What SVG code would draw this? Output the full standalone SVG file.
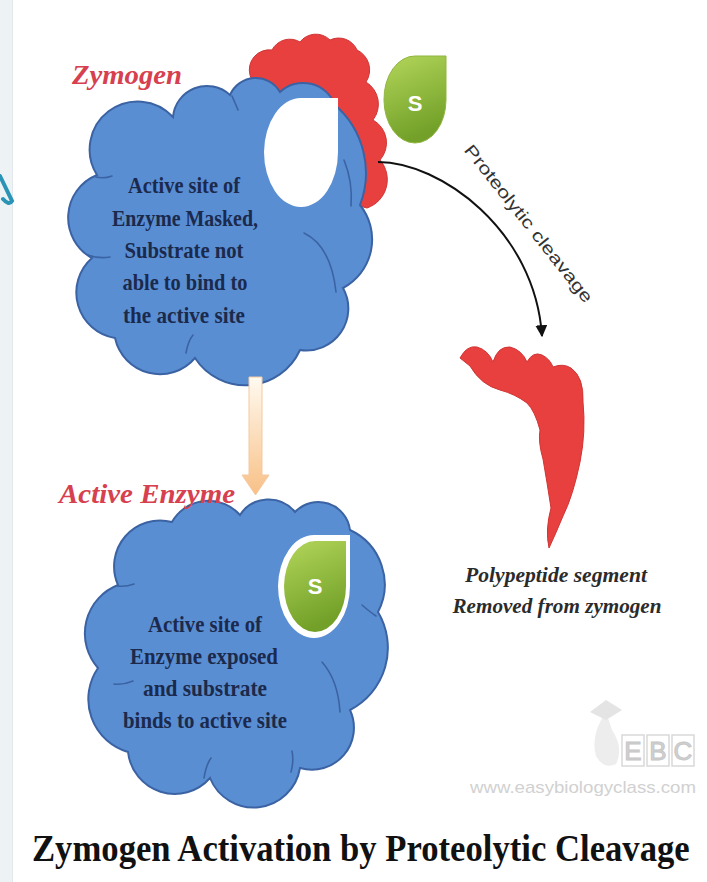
<svg xmlns="http://www.w3.org/2000/svg" width="707" height="882" viewBox="0 0 707 882">
  <style>
    .cloud { fill: #5a8ed3; stroke: #3b63a3; stroke-width: 2; }
    .fold { fill: none; stroke: #3b63a3; stroke-width: 1.6; stroke-linecap: round; }
    .body { font-family: "Liberation Serif", "DejaVu Serif", serif; font-weight: bold; font-size: 24px; fill: #1b2a4c; text-anchor: middle; }
    .tag { font-family: "Liberation Serif", "DejaVu Serif", serif; font-style: italic; font-weight: bold; font-size: 28px; fill: #d7404f; }
    .note { font-family: "Liberation Serif", "DejaVu Serif", serif; font-style: italic; font-weight: bold; font-size: 21px; fill: #2b2b2b; text-anchor: middle; }
    .sub { font-family: "Liberation Sans", "DejaVu Sans", sans-serif; font-weight: bold; font-size: 22px; fill: #ffffff; text-anchor: middle; }
    .red { fill: #e8403f; stroke: #cf3434; stroke-width: 1; }
    .mark { fill: #c6c6c6; font-family: "Liberation Sans", "DejaVu Sans", sans-serif; }
  </style>
  <defs>
    <linearGradient id="leaf" x1="0" y1="0" x2="0.3" y2="1">
      <stop offset="0" stop-color="#b3d65a"/>
      <stop offset="1" stop-color="#72a028"/>
    </linearGradient>
    <linearGradient id="peach" x1="0" y1="0" x2="0" y2="1">
      <stop offset="0" stop-color="#fffaf0"/>
      <stop offset="1" stop-color="#f8c086"/>
    </linearGradient>
    <marker id="head" viewBox="0 0 10 10" refX="9" refY="5" markerWidth="6" markerHeight="6" orient="auto" markerUnits="strokeWidth">
      <path d="M0,0 L10,5 L0,10 Z" fill="#111"/>
    </marker>
  </defs>

  <!-- page background -->
  <rect x="0" y="0" width="707" height="882" fill="#ffffff"/>
  <rect x="0" y="0" width="12" height="882" fill="#edf2f5"/>
  <line x1="12.5" y1="0" x2="12.5" y2="882" stroke="#e1e7eb" stroke-width="1"/>
  <path d="M0,176 L12,201 Q9,206 3,199" fill="none" stroke="#2a94b7" stroke-width="4" stroke-linecap="round"/>

  <!-- zymogen: masking peptide, enzyme body and hidden active site -->
  <g id="zymogen">
    <path class="red" d="M262,110 L250,75 A20,20 0 0 1 272,50 A20,20 0 0 1 300,42 A20,20 0 0 1 330,40 A20,20 0 0 1 357,50 A22,22 0 0 1 366,82 A26,26 0 0 1 373,120 A26,26 0 0 1 380,160 A30,30 0 0 1 367,208 L352,204 Z"/>
    <path class="cloud" d="M97,175 A48,48 0 0 1 173,117 A34,34 0 0 1 230,95 A28,28 0 0 1 280,92 A34,34 0 0 1 335,105 A90,90 0 0 1 360,205 A55,55 0 0 1 343,288 A42,42 0 0 1 300,350 A60,60 0 0 1 195,358 A46,46 0 0 1 115,338 A46,46 0 0 1 92,258 A46,46 0 0 1 97,175 Z"/>
    <path class="fold" d="M304,233 Q331,246 336,292"/>
    <path class="fold" d="M344,160 Q353,182 351,206"/>
    <path class="fold" d="M88,255 Q99,259 110,257"/>
    <path class="fold" d="M186,353 Q188,341 193,335"/>
    <path class="fold" d="M96,177 Q104,179 112,176"/>
    <path class="fold" d="M232,96 Q236,105 238,110"/>
    <path d="M301,98 L338,98 L338,152 A37,55 0 0 1 301,207 A37,55 0 0 1 264,152 A37,55 0 0 1 301,98 Z" fill="#ffffff"/>
    <text class="tag" x="72" y="84" textLength="110" lengthAdjust="spacingAndGlyphs">Zymogen</text>
    <text class="body" x="184" y="193" textLength="112" lengthAdjust="spacingAndGlyphs">Active site of</text>
    <text class="body" x="185" y="226" textLength="146" lengthAdjust="spacingAndGlyphs">Enzyme Masked,</text>
    <text class="body" x="184" y="258" textLength="119" lengthAdjust="spacingAndGlyphs">Substrate not</text>
    <text class="body" x="185" y="290" textLength="125" lengthAdjust="spacingAndGlyphs">able to bind to</text>
    <text class="body" x="184" y="323" textLength="122" lengthAdjust="spacingAndGlyphs">the active site</text>
  </g>

  <!-- free substrate -->
  <g id="substrate">
    <path d="M415,56 L446,56 L446,100 A31,43 0 0 1 415,143 A31,43 0 0 1 384,100 A31,43 0 0 1 415,56 Z" fill="url(#leaf)" stroke="#8fb540" stroke-width="1"/>
    <text class="sub" x="415" y="111">S</text>
  </g>

  <!-- active enzyme with bound substrate -->
  <g id="active-enzyme">
    <path class="cloud" d="M118,585 A46,46 0 0 1 172,522 A42,42 0 0 1 240,515 A34,34 0 0 1 295,512 A32,32 0 0 1 350,530 A60,60 0 0 1 378,612 A70,70 0 0 1 350,710 A42,42 0 0 1 300,768 A47,47 0 0 1 210,778 A47,47 0 0 1 128,752 A55,55 0 0 1 98,668 A52,52 0 0 1 118,585 Z"/>
    <path class="fold" d="M322,662 Q338,680 340,712"/>
    <path class="fold" d="M114,684 Q124,685 133,681"/>
    <path class="fold" d="M204,778 Q206,765 211,758"/>
    <path class="fold" d="M291,772 Q294,761 292,751"/>
    <path class="fold" d="M117,586 Q126,587 134,584"/>
    <path class="fold" d="M362,605 Q370,612 376,616"/>
    <path d="M314,535 L350,535 L350,586 A36,52 0 0 1 314,638 A36,52 0 0 1 278,586 A36,52 0 0 1 314,535 Z" fill="#ffffff"/>
    <path d="M315,541 L346,541 L346,586 A31,46 0 0 1 315,632 A31,46 0 0 1 284,586 A31,46 0 0 1 315,541 Z" fill="url(#leaf)"/>
    <text class="sub" x="315" y="594">S</text>
    <text class="tag" x="59" y="503" textLength="176" lengthAdjust="spacingAndGlyphs">Active Enzyme</text>
    <text class="body" x="205" y="632" textLength="114" lengthAdjust="spacingAndGlyphs">Active site of</text>
    <text class="body" x="204" y="664" textLength="148" lengthAdjust="spacingAndGlyphs">Enzyme exposed</text>
    <text class="body" x="205" y="696" textLength="124" lengthAdjust="spacingAndGlyphs">and substrate</text>
    <text class="body" x="205" y="728" textLength="164" lengthAdjust="spacingAndGlyphs">binds to active site</text>
  </g>

  <!-- released polypeptide segment -->
  <g id="segment">
    <path class="red" d="M460,358 Q467,345 477,347 Q488,350 493,362 Q498,346 510,347 Q522,350 527,362 Q533,351 542,355 Q550,359 553,367 Q563,363 571,368 Q584,377 583,402 Q586,432 580,462 Q573,496 563,516 Q556,533 549,548 Q545,530 551,508 Q547,482 543,459 Q538,442 540,430 Q535,411 527,403 Q515,394 500,390 Q481,385 470,366 Z"/>
    <text class="note" x="556" y="582" textLength="182" lengthAdjust="spacingAndGlyphs">Polypeptide segment</text>
    <text class="note" x="557" y="613" textLength="209" lengthAdjust="spacingAndGlyphs">Removed from zymogen</text>
  </g>

  <!-- connectors -->
  <g id="connectors">
    <path d="M378,162 C440,162 535,230 542,336" fill="none" stroke="#111" stroke-width="2" marker-end="url(#head)"/>
    <text x="0" y="5" transform="translate(528,224) rotate(51.7)" font-family="Liberation Sans, DejaVu Sans, sans-serif" font-size="17" fill="#333" text-anchor="middle" textLength="196" lengthAdjust="spacingAndGlyphs">Proteolytic cleavage</text>
    <path d="M249,377 L262,377 L262,475 L269,475 L255.5,495 L242,475 L249,475 Z" fill="url(#peach)" stroke="#f3c9a0" stroke-width="1"/>
  </g>

  <!-- site mark -->
  <g id="site-mark" opacity="0.8">
    <path d="M606,712 Q590,735 596,756 Q604,770 616,764 Q624,748 612,730 Z" fill="#e9e9e9"/>
    <path d="M590,712 L606,700 L622,710 L606,720 Z" fill="#dedede"/>
    <rect x="622" y="735" width="22" height="31" fill="none" stroke="#cfcfcf" stroke-width="1.5"/>
    <rect x="647" y="735" width="22" height="31" fill="none" stroke="#cfcfcf" stroke-width="1.5"/>
    <rect x="672" y="735" width="22" height="31" fill="none" stroke="#cfcfcf" stroke-width="1.5"/>
    <text class="mark" x="633" y="760" font-size="26" text-anchor="middle" fill="#e8e8e8" stroke="#b9b9b9" stroke-width="1">E</text>
    <text class="mark" x="658" y="760" font-size="26" text-anchor="middle" fill="#e8e8e8" stroke="#b9b9b9" stroke-width="1">B</text>
    <text class="mark" x="683" y="760" font-size="26" text-anchor="middle" fill="#e8e8e8" stroke="#b9b9b9" stroke-width="1">C</text>
    <text class="mark" x="470" y="793" font-size="17" textLength="226" lengthAdjust="spacingAndGlyphs">www.easybiologyclass.com</text>
  </g>

  <!-- title, horizontally condensed -->
  <g transform="translate(32,861) scale(0.84,1)">
    <text x="0" y="0" font-family="Liberation Serif, DejaVu Serif, serif" font-weight="bold" font-size="37" fill="#111" textLength="783" lengthAdjust="spacingAndGlyphs">Zymogen Activation by Proteolytic Cleavage</text>
  </g>
</svg>
